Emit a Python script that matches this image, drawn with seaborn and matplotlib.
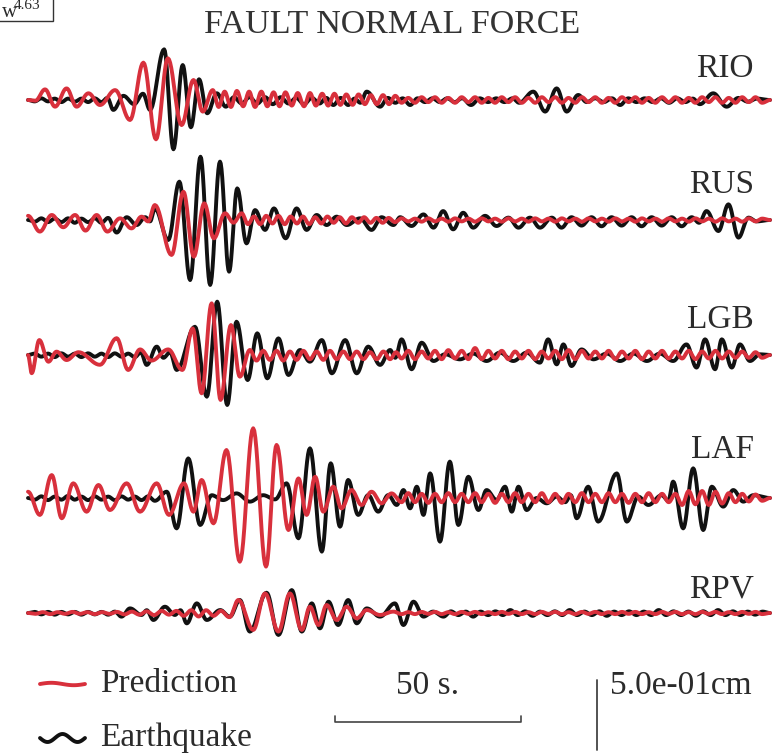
import numpy as np
import pandas as pd
import matplotlib
matplotlib.use("Agg")
import matplotlib.pyplot as plt
import seaborn as sns
from matplotlib.patches import Rectangle

# ---------------------------------------------------------------------------
# Waveform extrema (time in s, displacement in cm) for each station.
# Each trace is stored as the times and values of its successive peaks and
# troughs; the drawn curve passes smoothly through them.
# ---------------------------------------------------------------------------
STATIONS = ["RIO", "RUS", "LGB", "LAF", "RPV"]
SOURCES = ["Earthquake", "Prediction"]

QUIET_T = [100.7, 102.5, 104.3, 106.1, 107.9, 109.7, 111.5, 113.3, 115.1, 116.9,
           118.7, 120.5, 122.3, 124.1, 125.9, 127.7, 129.5, 131.3, 133.1, 134.9,
           136.7, 138.5, 140.3, 142.1, 143.9, 145.7, 147.5, 149.3, 151.1, 152.9,
           154.7, 156.5, 158.3, 160.1, 161.9, 163.7, 165.5, 167.3, 169.1, 170.9,
           172.7, 174.5, 176.3, 178.1, 179.9, 181.7, 183.5, 185.3, 187.1, 188.9,
           190.7, 192.5, 194.3, 196.1, 197.9]

# --- RIO -------------------------------------------------------------------
RIO_PRED_T = [0, 2.0, 4.6, 7.3, 10.4, 13.1, 16.3, 19.4, 23.5, 27.5, 31.1, 34.5, 37.7,
              41.4, 44.6, 47.1, 49.8, 51.4, 53.0, 54.7, 56.3, 58.0, 59.6, 61.2, 62.9,
              64.5, 66.2, 67.8, 69.4, 71.1, 72.7, 74.4, 76.0, 77.6, 79.3, 80.9, 82.6,
              84.2, 85.8, 87.5, 89.1, 90.8, 92.4, 94.0, 95.7, 97.3, 99.0] + QUIET_T + [200.0]
RIO_PRED_A = [0, -0.005, 0.076, -0.048, 0.083, -0.048, 0.048, -0.036, 0.071, -0.143,
              0.267, -0.281, 0.298, -0.179, 0.143, -0.083, 0.071, -0.05, 0.06, -0.05,
              0.065, -0.045, 0.06, -0.05, 0.06, -0.045, 0.055, -0.045, 0.055, -0.04,
              0.05, -0.045, 0.05, -0.04, 0.045, -0.04, 0.045, -0.035, 0.04, -0.035,
              0.04, -0.03, 0.035, -0.03, 0.035, -0.03, 0.03,
              -0.02, 0.015, -0.02, 0.02, -0.015, 0.02, -0.02, 0.015, -0.02, 0.02,
              -0.015, 0.02, -0.02, 0.015, -0.02, 0.02, -0.015, 0.02, -0.02, 0.015,
              -0.02, 0.02, -0.015, 0.02, -0.02, 0.015, -0.02, 0.02, -0.015, 0.02,
              -0.02, 0.015, -0.02, 0.02, -0.015, 0.02, -0.02, 0.015, -0.02, 0.02,
              -0.015, 0.02, -0.02, 0.015, -0.02, 0.02, -0.015, 0.02, -0.02, 0.015,
              -0.02, 0.02, -0.015, 0.02, -0.02, 0.0]
RIO_OBS_T = [0, 1.8, 3.6, 5.4, 7.2, 9.0, 10.8, 12.6, 14.4, 16.2, 18.0, 19.8, 21.4, 23.0,
             25.7, 28.6, 31.0, 32.9, 36.7, 39.2, 41.7, 43.9, 46.1, 48.3, 50.9, 53.3,
             55.5, 57.6, 59.7, 61.8, 63.9, 66.0, 68.1, 70.2, 72.3, 74.4, 76.5, 78.6,
             80.4, 82.3, 84.3, 86.3, 88.0, 89.6, 91.3, 94.9, 97.0, 99.0, 101.0, 103.0,
             105.0, 107.0, 109.0, 111.0, 113.0, 115.0, 117.0, 119.4, 121.8, 124.0,
             126.2, 128.4, 130.6, 132.4, 136.2, 139.4, 142.5, 145.2, 148.3, 150.6,
             152.9, 155.2, 157.4, 159.6, 161.8, 164.0, 166.2, 168.4, 170.6, 172.8,
             175.0, 177.2, 179.2, 181.1, 184.7, 188.3, 191.5, 194.0, 196.5, 200.0]
RIO_OBS_A = [0, -0.01, 0.012, -0.01, 0.01, -0.015, 0.01, -0.012, 0.01, -0.015,
             0.012, -0.015, 0.015, -0.071, 0.03, -0.03, 0.045, -0.071, 0.362, -0.352,
             0.25, -0.195, 0.148, -0.095, 0.048, -0.048, 0.02, -0.025, 0.02, -0.025,
             0.02, -0.03, 0.02, -0.025, 0.015, -0.03, 0.015, -0.025, 0.015, -0.036,
             0.015, -0.036, 0.01, -0.02, 0.06, -0.048, 0.015, -0.02, 0.012, -0.036,
             0.012, -0.015, 0.012, -0.015, 0.012, -0.015, 0.012, -0.036, 0.012, -0.015,
             0.012, -0.015, 0.012, -0.02, 0.06, -0.083, 0.083, -0.083, 0.036, -0.015,
             0.012, -0.015, 0.012, -0.036, 0.012, -0.015, 0.012, -0.015, 0.012, -0.02,
             0.012, -0.015, 0.01, -0.03, 0.048, -0.048, 0.015, -0.012, 0.01, 0.0]

# --- RUS -------------------------------------------------------------------
RUS_PRED_T = [0, 3.2, 6.4, 9.5, 12.7, 15.5, 18.5, 21.4, 24.8, 27.9, 30.6, 32.4, 34.2,
              38.7, 41.9, 44.7, 47.5, 50.1, 53.1, 55.4, 57.6, 59.3, 60.9, 62.6, 64.2,
              65.9, 67.5, 69.2, 70.8, 72.5, 74.1, 75.8, 77.4, 79.1, 80.7, 82.4, 84.0,
              85.7, 87.3, 89.0, 90.6, 92.3, 93.9, 95.6, 97.2, 98.9] + QUIET_T + [200.0]
RUS_PRED_A = [0.03, -0.083, 0.036, -0.052, 0.036, -0.076, 0.036, -0.083, 0.012, -0.06,
              0.024, -0.01, 0.107, -0.25, 0.202, -0.262, 0.119, -0.131, 0.048, -0.019,
              0.048, -0.03, 0.025, -0.03, 0.03, -0.025, 0.03, -0.03, 0.025, -0.025,
              0.025, -0.03, 0.02, -0.025, 0.025, -0.02, 0.02, -0.025, 0.02, -0.02,
              0.02, -0.02, 0.015, -0.02, 0.015, -0.015,
              0.012, -0.01, 0.01, -0.012, 0.012, -0.01, 0.01, -0.012, 0.012, -0.01,
              0.01, -0.012, 0.012, -0.01, 0.01, -0.012, 0.012, -0.01, 0.01, -0.012,
              0.012, -0.01, 0.01, -0.012, 0.012, -0.01, 0.01, -0.012, 0.012, -0.01,
              0.01, -0.012, 0.012, -0.01, 0.01, -0.012, 0.012, -0.01, 0.01, -0.012,
              0.012, -0.01, 0.01, -0.012, 0.012, -0.01, 0.01, -0.012, 0.012, -0.01,
              0.01, -0.012, 0.012, -0.01, 0.01, 0.0]
RUS_OBS_T = [0, 1.8, 3.6, 5.4, 7.2, 9.0, 10.8, 12.6, 14.4, 16.2, 18.0, 19.8, 21.6, 23.9,
             26.6, 29.3, 31.6, 32.9, 34.2, 37.8, 40.8, 43.7, 46.5, 49.1, 51.75, 54.2,
             56.4, 58.9, 61.2, 63.9, 66.3, 69.45, 72.4, 75.1, 77.8, 80.5, 83.2, 85.9,
             89.5, 92.6, 95.3, 98.5, 100.3, 103.4, 106.6, 109.3, 111.9, 114.6, 117.3,
             120.0, 123.2, 126.3, 129.5, 132.2, 135.3, 138.0, 141.2, 143.8, 146.5,
             149.2, 151.9, 154.6, 157.3, 160.0, 162.7, 165.4, 168.1, 170.8, 173.5,
             176.2, 178.9, 180.9, 182.9, 186.1, 188.8, 191.5, 194.2, 196.4, 200.0]
RUS_OBS_A = [0, -0.012, 0.012, -0.015, 0.01, -0.015, 0.012, -0.02, 0.01, -0.015,
             0.012, -0.02, 0.015, -0.09, 0.02, -0.036, 0.02, -0.01, 0.083, -0.143,
             0.274, -0.429, 0.452, -0.464, 0.417, -0.369, 0.226, -0.167, 0.071, -0.071,
             0.083, -0.131, 0.083, -0.071, 0.036, -0.036, 0.024, -0.036, 0.012, -0.071,
             0.02, -0.036, 0.02, -0.043, 0.04, -0.055, 0.064, -0.067, 0.052, -0.055,
             0.03, -0.043, 0.017, -0.055, 0.017, -0.055, 0.017, -0.055, 0.02, -0.04,
             0.02, -0.045, 0.02, -0.04, 0.02, -0.045, 0.02, -0.04, 0.02, -0.045,
             0.02, -0.02, 0.064, -0.079, 0.112, -0.126, 0.017, -0.01, 0.0]

# --- LGB -------------------------------------------------------------------
LGB_PRED_T = [0, 1.0, 3.05, 5.5, 7.7, 10.4, 13.6, 19.4, 23.9, 27.0, 30.2, 33.3, 37.8,
              41.6, 44.4, 46.8, 49.5, 51.9, 54.7, 57.1, 59.8, 61.6, 63.4, 65.2, 67.0,
              68.8, 70.6, 72.4, 74.2, 76.0, 77.8, 79.6, 81.4, 83.2, 85.0, 86.8, 88.6,
              90.4, 92.2, 94.0, 95.8, 97.6, 99.2] + QUIET_T + [200.0]
LGB_PRED_A = [0, -0.13, 0.107, -0.048, 0.024, -0.036, 0.02, -0.07, 0.12, -0.107,
              0.04, -0.04, 0.04, -0.107, 0.19, -0.274, 0.369, -0.321, 0.214, -0.155,
              0.036, -0.04, 0.03, -0.035, 0.03, -0.04, 0.025, -0.035, 0.03, -0.03,
              0.025, -0.035, 0.03, -0.03, 0.025, -0.03, 0.025, -0.03, 0.02, -0.03,
              0.025, -0.03, 0.02,
              -0.025, 0.03, -0.03, 0.025, -0.025, 0.03, -0.03, 0.035, -0.025, 0.03,
              -0.03, 0.05, -0.03, 0.03, -0.025, 0.03, -0.03, 0.025, -0.025, 0.03,
              -0.03, 0.025, -0.025, 0.03, -0.03, 0.035, -0.03, 0.03, -0.025, 0.025,
              -0.025, 0.03, -0.03, 0.025, -0.025, 0.03, -0.03, 0.025, -0.025, 0.03,
              -0.025, 0.025, -0.025, 0.03, -0.03, 0.025, -0.025, 0.03, -0.025, 0.025,
              -0.02, 0.025, -0.02, 0.02, -0.02, 0.0]
LGB_OBS_T = [0, 1.8, 3.6, 5.4, 7.2, 9.0, 10.8, 12.6, 14.4, 16.2, 18.0, 19.8, 21.6, 23.4,
             25.2, 27.0, 28.8, 30.4, 32.0, 34.7, 36.5, 38.3, 40.1, 45.0, 48.2, 51.0,
             53.7, 56.2, 59.2, 61.8, 64.5, 67.5, 70.2, 73.3, 76.0, 79.2, 81.9, 85.5,
             88.6, 91.7, 94.9, 97.6, 99.0, 100.7, 103.4, 106.1, 109.3, 112.4, 116.4,
             120.0, 123.6, 127.2, 130.8, 134.4, 138.0, 140.2, 142.5, 144.3, 146.5,
             149.2, 152.4, 156.0, 159.6, 163.2, 166.8, 170.3, 173.9, 177.5, 180.2,
             182.5, 185.2, 187.0, 189.7, 191.9, 194.6, 197.3, 200.0]
LGB_OBS_A = [0, 0.01, -0.012, 0.01, -0.015, 0.012, -0.012, 0.01, -0.015, 0.012,
             -0.012, 0.01, -0.015, 0.012, -0.012, 0.01, -0.015, 0.02, -0.071, 0.06,
             -0.02, 0.02, -0.107, 0.202, -0.298, 0.381, -0.357, 0.238, -0.179, 0.155,
             -0.167, 0.119, -0.143, 0.036, -0.048, 0.107, -0.131, 0.107, -0.131, 0.06,
             -0.071, 0.036, -0.02, 0.112, -0.102, 0.088, -0.043, 0.005, -0.031, 0.01,
             -0.043, 0.017, -0.043, 0.017, -0.055, 0.112, -0.067, 0.076, -0.079, 0.04,
             -0.031, 0.01, -0.043, 0.01, -0.043, 0.01, -0.043, 0.076, -0.09, 0.112,
             -0.102, 0.112, -0.09, 0.076, -0.043, 0.005, 0.0]

# --- LAF -------------------------------------------------------------------
LAF_PRED_T = [0, 3.2, 6.4, 9.1, 12.2, 15.8, 19.0, 22.1, 26.6, 30.2, 34.7, 38.0, 42.05,
              44.6, 46.8, 50.0, 53.5, 57.1, 60.7, 64.15, 67.0, 70.2, 72.9, 75.1, 77.4,
              79.6, 82.3, 84.5, 87.2, 89.9, 92.6, 95.3, 98.0] + QUIET_T + [200.0]
LAF_PRED_A = [0.045, -0.121, 0.164, -0.145, 0.105, -0.098, 0.093, -0.086, 0.105, -0.098,
              0.105, -0.121, 0.105, -0.098, 0.129, -0.181, 0.343, -0.455, 0.498, -0.49,
              0.379, -0.229, 0.14, -0.121, 0.152, -0.098, 0.081, -0.074, 0.057, -0.05,
              0.045, -0.038, 0.033,
              -0.03, 0.035, -0.03, 0.03, -0.035, 0.03, -0.03, 0.035, -0.03, 0.03,
              -0.03, 0.035, -0.03, 0.03, -0.035, 0.03, -0.03, 0.035, -0.03, 0.03,
              -0.03, 0.035, -0.03, 0.03, -0.035, 0.03, -0.03, 0.035, -0.03, 0.03,
              -0.03, 0.035, -0.03, 0.03, -0.035, 0.03, -0.03, 0.035, -0.03, 0.03,
              -0.03, 0.03, -0.05, 0.05, -0.045, 0.05, -0.05, 0.045, -0.04, 0.035,
              -0.03, 0.03, -0.025, 0.025, -0.02, 0.0]
LAF_OBS_T = [0, 1.8, 3.6, 5.4, 7.2, 9.0, 10.8, 12.6, 14.4, 16.2, 18.0, 19.8, 21.6, 23.4,
             25.2, 27.0, 28.8, 30.6, 32.4, 34.2, 37.4, 40.07, 43.2, 46.4, 49.5, 52.6,
             56.2, 59.8, 63.4, 66.6, 69.7, 72.9, 76.0, 79.2, 81.6, 84.1, 86.3, 89.0,
             91.7, 94.4, 97.1, 99.4, 101.2, 103.0, 104.8, 106.6, 108.4, 111.05, 113.7,
             116.0, 118.7, 121.4, 123.6, 126.3, 128.6, 130.4, 132.2, 134.4, 137.1,
             139.8, 142.5, 144.8, 146.3, 147.9, 151.0, 153.7, 158.7, 161.4, 164.5,
             167.2, 170.8, 172.6, 173.9, 176.6, 179.3, 182.0, 184.3, 187.4, 190.1,
             192.8, 195.5, 200.0]
LAF_OBS_A = [0, -0.012, 0.012, -0.015, 0.01, -0.012, 0.015, -0.012, 0.01, -0.015,
             0.012, -0.012, 0.01, -0.015, 0.012, -0.012, 0.01, -0.015, 0.012, -0.02,
             0.045, -0.217, 0.283, -0.193, 0.02, -0.015, 0.033, -0.026, 0.02, -0.01,
             0.105, -0.288, 0.355, -0.383, 0.248, -0.205, 0.129, -0.121, 0.021, -0.098,
             0.021, -0.05, 0.057, -0.074, 0.081, -0.121, 0.176, -0.312, 0.26, -0.193,
             0.152, -0.086, 0.057, -0.014, 0.081, -0.098, 0.081, -0.086, 0.0, -0.038,
             0.01, -0.03, 0.02, -0.145, 0.081, -0.169, 0.176, -0.169, 0.01, -0.05,
             0.02, -0.02, 0.117, -0.217, 0.212, -0.229, 0.081, -0.062, 0.057, -0.026,
             0.02, 0.0]

# --- RPV -------------------------------------------------------------------
RPV_PRED_T = [0, 2.0, 4.0, 6.0, 8.0, 10.0, 12.0, 14.0, 16.0, 18.0, 20.0, 22.0, 24.0,
              26.0, 28.0, 30.0, 32.0, 34.0, 36.0, 38.0, 40.0, 42.0, 44.0, 46.0, 48.0,
              50.0, 52.0, 54.3, 56.7, 60.7, 63.9, 67.5, 70.6, 73.8, 76.0, 78.3, 80.5,
              83.2, 85.9, 88.6, 91.3, 94.9, 98.5] + QUIET_T + [200.0]
RPV_PRED_A = [0, -0.006, 0.006, -0.008, 0.006, -0.006, 0.008, -0.006, 0.006, -0.008,
              0.006, -0.006, 0.008, -0.01, 0.01, -0.012, 0.012, -0.015, 0.015, -0.012,
              0.015, -0.02, 0.02, -0.025, 0.02, -0.02, 0.015, -0.03, 0.093, -0.121,
              0.14, -0.133, 0.14, -0.121, 0.045, -0.086, 0.057, -0.05, 0.045, -0.038,
              0.021, -0.014, 0.01,
              -0.008, 0.006, -0.008, 0.008, -0.006, 0.008, -0.008, 0.006, -0.008, 0.008,
              -0.006, 0.008, -0.008, 0.006, -0.008, 0.008, -0.006, 0.008, -0.008, 0.006,
              -0.008, 0.008, -0.006, 0.008, -0.008, 0.006, -0.008, 0.008, -0.006, 0.008,
              -0.008, 0.006, -0.008, 0.008, -0.006, 0.008, -0.008, 0.006, -0.008, 0.008,
              -0.006, 0.008, -0.008, 0.006, -0.008, 0.008, -0.006, 0.008, -0.008, 0.006,
              -0.008, 0.008, -0.006, 0.008, -0.008, 0.0]
RPV_OBS_T = [0, 1.8, 3.6, 5.4, 7.2, 9.0, 10.8, 12.6, 14.4, 16.2, 18.0, 19.8, 21.6, 23.4,
             25.2, 27.5, 30.6, 32.0, 33.8, 36.9, 39.6, 41.1, 42.8, 45.5, 48.2, 51.8,
             54.4, 57.1, 59.8, 64.3, 67.5, 71.1, 73.8, 76.5, 78.7, 81.0, 83.6, 86.3,
             88.6, 91.3, 94.9, 98.9, 101.2, 103.9, 106.6, 109.2, 112.0,
             114.0, 116.0, 118.0, 120.0, 122.0, 124.0, 126.0, 128.0, 130.0, 132.0,
             134.0, 136.0, 138.0, 140.0, 142.0, 144.0, 146.0, 148.0, 150.0, 152.0,
             154.0, 156.0, 158.0, 160.0, 162.0, 164.0, 166.0, 168.0, 170.0, 172.0,
             174.0, 176.0, 178.0, 180.0, 182.0, 184.0, 186.0, 188.0, 190.0, 192.0,
             194.0, 196.0, 198.0, 200.0]
RPV_OBS_A = [0, 0.008, -0.01, 0.008, -0.012, 0.008, -0.01, 0.008, -0.012, 0.008,
             -0.01, 0.008, -0.012, 0.01, -0.026, 0.033, -0.014, 0.02, -0.05, 0.045,
             -0.014, 0.02, -0.074, 0.069, -0.05, 0.021, -0.026, 0.093, -0.133, 0.145,
             -0.157, 0.164, -0.133, 0.069, -0.11, 0.081, -0.086, 0.093, -0.074, 0.033,
             -0.026, 0.069, -0.086, 0.081, -0.026, 0.01, -0.026,
             0.012, -0.015, 0.01, -0.026, 0.01, -0.015, 0.012, -0.015, 0.021, -0.015,
             0.012, -0.02, 0.01, -0.015, 0.012, -0.015, 0.021, -0.015, 0.01, -0.015,
             0.012, -0.02, 0.01, -0.015, 0.012, -0.015, 0.01, -0.015, 0.021, -0.015,
             0.012, -0.015, 0.01, -0.02, 0.012, -0.015, 0.021, -0.015, 0.012, -0.015,
             0.01, -0.012, 0.01, 0.0]

TRACES = {
    ("RIO", "Earthquake"): (RIO_OBS_T, RIO_OBS_A), ("RIO", "Prediction"): (RIO_PRED_T, RIO_PRED_A),
    ("RUS", "Earthquake"): (RUS_OBS_T, RUS_OBS_A), ("RUS", "Prediction"): (RUS_PRED_T, RUS_PRED_A),
    ("LGB", "Earthquake"): (LGB_OBS_T, LGB_OBS_A), ("LGB", "Prediction"): (LGB_PRED_T, LGB_PRED_A),
    ("LAF", "Earthquake"): (LAF_OBS_T, LAF_OBS_A), ("LAF", "Prediction"): (LAF_PRED_T, LAF_PRED_A),
    ("RPV", "Earthquake"): (RPV_OBS_T, RPV_OBS_A), ("RPV", "Prediction"): (RPV_PRED_T, RPV_PRED_A),
}

SCALE_TIME = 50      # s
SCALE_DISP = 0.5     # cm
MAGNITUDE = "4.63"
TITLE = "FAULT NORMAL FORCE"

# ---------------------------------------------------------------------------
# Layout (page units in pixels of the 776 x 754 canvas)
# ---------------------------------------------------------------------------
W_PX, H_PX = 776, 754
X0_PX = 28.0            # where t = 0 sits
PX_PER_S = 3.71
PX_PER_CM = 140.0
ROW_BASE_PX = {"RIO": 100, "RUS": 220, "LGB": 355, "LAF": 498, "RPV": 613}
LABEL_BASE_PX = {"RIO": 77, "RUS": 193, "LGB": 328, "LAF": 458, "RPV": 597}
COLORS = {"Earthquake": "#111111", "Prediction": "#d8303c"}
TEXT_COLOR = "#2b2b2b"
FS = 24


def page(x, y):
    """Canvas pixel position -> data coordinates (s, cm)."""
    return (x - X0_PX) / PX_PER_S, (H_PX - y) / PX_PER_CM


def smooth_trace(t_ext, a_ext, n=12):
    """Half-cosine segments between successive extrema."""
    t_ext = np.asarray(t_ext, float)
    a_ext = np.asarray(a_ext, float)
    assert len(t_ext) == len(a_ext)
    s = np.linspace(0.0, 1.0, n, endpoint=False)
    w = 0.5 - 0.5 * np.cos(np.pi * s)
    t = (t_ext[:-1, None] + np.diff(t_ext)[:, None] * s).ravel()
    a = (a_ext[:-1, None] + np.diff(a_ext)[:, None] * w).ravel()
    return np.append(t, t_ext[-1]), np.append(a, a_ext[-1])


rows = []
for (station, source), (t_ext, a_ext) in TRACES.items():
    t, a = smooth_trace(t_ext, a_ext)
    base = page(0, ROW_BASE_PX[station])[1]
    rows.append(pd.DataFrame({"station": station, "source": source,
                              "time": t, "disp": a + base}))
df = pd.concat(rows, ignore_index=True)

sns.set_style("white")
plt.rcParams["font.family"] = ["Liberation Serif", "DejaVu Serif"]

fig = plt.figure(figsize=(W_PX / 100, H_PX / 100), dpi=100)
ax = fig.add_axes([0, 0, 1, 1])
ax.set_xlim(page(0, 0)[0], page(W_PX, 0)[0])
ax.set_ylim(0, H_PX / PX_PER_CM)
ax.axis("off")

sns.lineplot(data=df, x="time", y="disp", hue="source", units="station",
             estimator=None, sort=False, hue_order=SOURCES, palette=COLORS,
             linewidth=2.8, legend=False, ax=ax)

# Title and station names
tx, ty = page(392, 25)
ax.text(tx, ty, TITLE, ha="center", va="center", fontsize=24.5, color="#333333")
for st in STATIONS:
    lx, ly = page(754, LABEL_BASE_PX[st])
    ax.text(lx, ly, st, ha="right", va="baseline", fontsize=FS, color=TEXT_COLOR)

# Magnitude tag in the corner
bx0, by0 = page(-3, 21)
bx1, by1 = page(53, -3)
ax.add_patch(Rectangle((bx0, by0), bx1 - bx0, by1 - by0, fill=False,
                       edgecolor="#333333", linewidth=1.0, clip_on=False))
ax.text(*page(2, 17), "w", ha="left", va="baseline", fontsize=15, color=TEXT_COLOR)
ax.text(*page(14, 9), MAGNITUDE, ha="left", va="baseline", fontsize=11, color=TEXT_COLOR)

# Legend
lx0, ly = page(40, 684)
lx1, _ = page(85, 684)
xs = np.linspace(lx0, lx1, 60)
ph = np.linspace(0, 1, 60)
ax.plot(xs, ly + (1.2 / PX_PER_CM) * np.sin(ph * 2 * np.pi), color=COLORS["Prediction"], lw=2.8)
_, ly2 = page(40, 738)
ax.plot(xs, ly2 + (4.0 / PX_PER_CM) * np.sin(ph * 3 * np.pi + np.pi), color=COLORS["Earthquake"], lw=2.8)
ax.text(*page(100, 684), "Prediction", ha="left", va="center", fontsize=FS, color=TEXT_COLOR)
ax.text(*page(100, 738), "Earthquake", ha="left", va="center", fontsize=FS, color=TEXT_COLOR)

# Time scale bar
sx0, sy = page(335, 722)
tick = 6 / PX_PER_CM
ax.plot([sx0, sx0, sx0 + SCALE_TIME, sx0 + SCALE_TIME], [sy + tick, sy, sy, sy + tick],
        color="#444444", lw=1.2)
ax.text(sx0 + SCALE_TIME / 2, page(0, 686)[1], f"{SCALE_TIME} s.", ha="center", va="center",
        fontsize=FS, color=TEXT_COLOR)

# Displacement scale bar
vx, vy = page(597, 750)
ax.plot([vx, vx], [vy, vy + SCALE_DISP], color="#444444", lw=1.3)
ax.text(*page(610, 686), f"{SCALE_DISP:.1e}cm", ha="left", va="center", fontsize=FS,
        color=TEXT_COLOR)

fig.savefig("out.png", dpi=100)
